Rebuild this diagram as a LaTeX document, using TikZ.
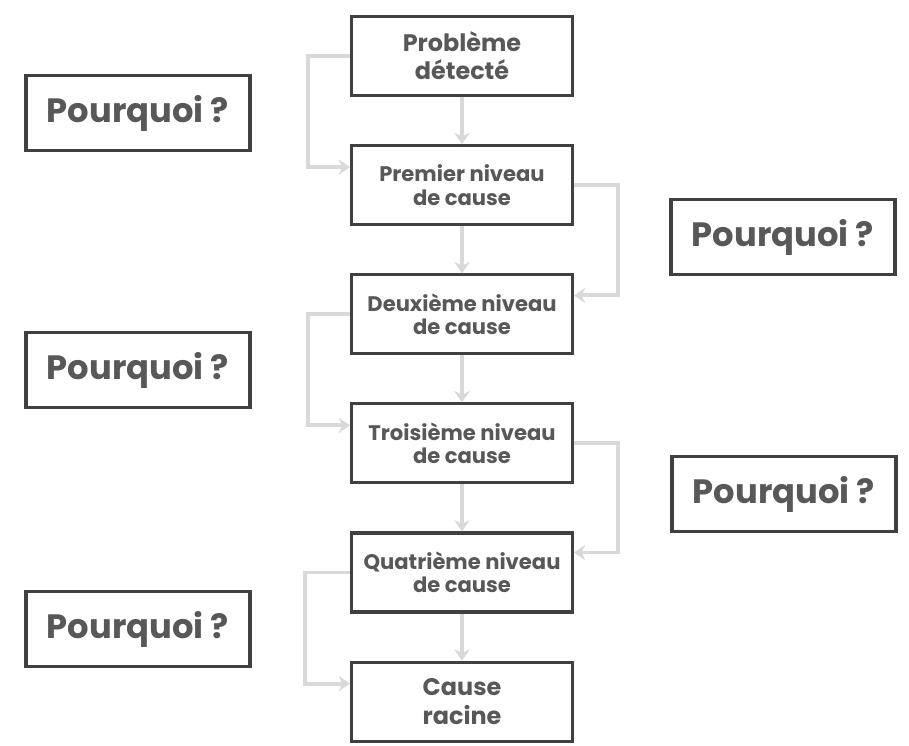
\documentclass[tikz,border=0pt]{standalone}
\usepackage{fontspec}
\setmainfont{Poppins}
\usetikzlibrary{positioning,arrows.meta}
\definecolor{boxline}{HTML}{404040}
\definecolor{boxtext}{HTML}{585858}
\definecolor{linkgray}{HTML}{D9D9D9}

\begin{document}
\begin{tikzpicture}[
    x=0.025cm, y=-0.025cm,
    node distance=1.175cm,
    causeBox/.style={rectangle, draw=boxline, fill=white, line width=2.2pt, minimum width=5.525cm, minimum height=1.975cm, align=center, text=boxtext, font=\bfseries\fontsize{15}{16.5}\selectfont},
    bigCause/.style={causeBox, font=\bfseries\fontsize{17}{20}\selectfont},
    whyBox/.style={rectangle, draw=boxline, fill=white, line width=2.2pt, minimum width=5.6cm, minimum height=1.875cm, text=boxtext, font=\bfseries\fontsize{24}{28}\selectfont},
    arrow/.style={-{Stealth[length=8pt, width=11pt]}, draw=linkgray, line width=2.8pt}
  ]

  \fill[white] (0,0) rectangle (909,745);

  % Cause chain
  \node[bigCause] (c1) at (462,56) {Problème\\détecté};
  \node[causeBox, below=of c1] (c2) {Premier niveau\\de cause};
  \node[causeBox, below=of c2] (c3) {Deuxième niveau\\de cause};
  \node[causeBox, below=of c3] (c4) {Troisième niveau\\de cause};
  \node[causeBox, below=of c4] (c5) {Quatrième niveau\\de cause};
  \node[bigCause, below=of c5] (c6) {Cause\\racine};

  % Why boxes
  \node[whyBox] (why1) at (138,113) {Pourquoi ?};
  \node[whyBox] (why2) at (783,237) {Pourquoi ?};
  \node[whyBox] (why3) at (138,370) {Pourquoi ?};
  \node[whyBox] (why4) at (784,494) {Pourquoi ?};
  \node[whyBox] (why5) at (138,629) {Pourquoi ?};

  % Arrows
  \draw[arrow] (c1) -- (c2);
  \draw[arrow] (c2) -- (c3);
  \draw[arrow] (c3) -- (c4);
  \draw[arrow] (c4) -- (c5);
  \draw[arrow] (c5) -- (c6);

  \draw[arrow] (c1.west) -- ++(-42,0) |- ([yshift=0.45cm]c2.west);
  \draw[arrow] (c2.east) -- ++(44,0) |- ([yshift=0.47cm]c3.east);
  \draw[arrow] (c3.west) -- ++(-42,0) |- ([yshift=0.45cm]c4.west);
  \draw[arrow] (c4.east) -- ++(44,0) |- ([yshift=0.5cm]c5.east);
  \draw[arrow] (c5.west) -- ++(-45,0) |- ([yshift=0.45cm]c6.west);

  \useasboundingbox (0,0) rectangle (909,745);
\end{tikzpicture}
\end{document}
